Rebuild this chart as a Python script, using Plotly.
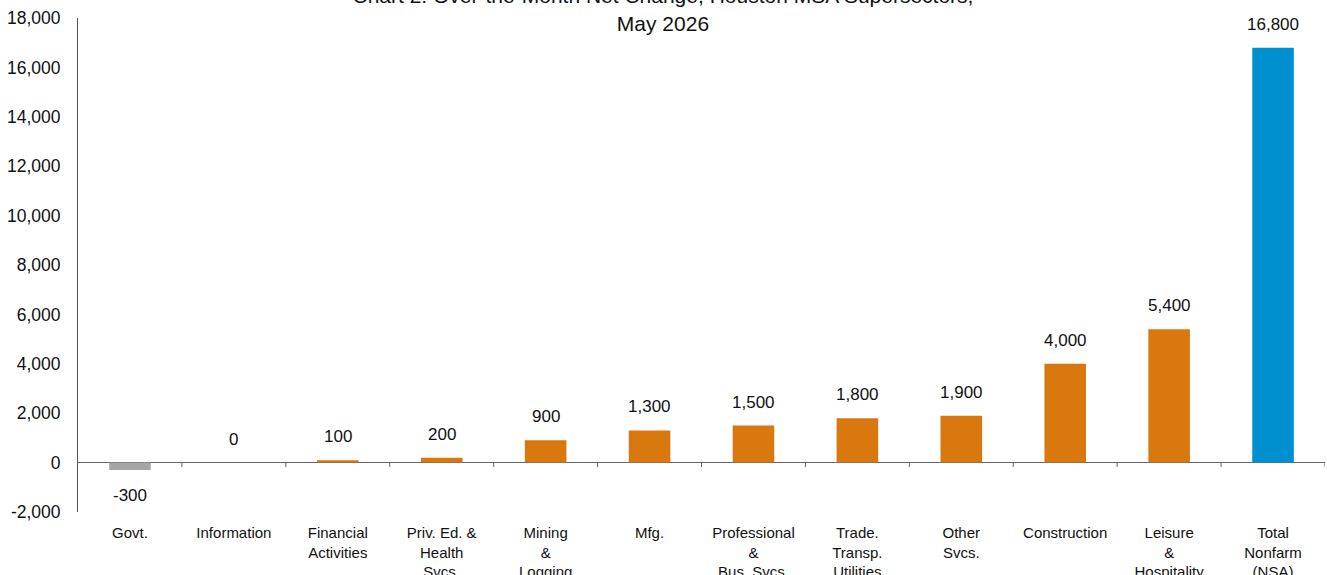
import plotly.graph_objects as go

# Over-the-month net change by supersector
categories = [
    "Govt.", "Information", "Financial<br>Activities", "Priv. Ed. &amp;<br>Health<br>Svcs.",
    "Mining<br>&amp;<br>Logging", "Mfg.", "Professional<br>&amp;<br>Bus. Svcs.",
    "Trade.<br>Transp.<br>Utilities", "Other<br>Svcs.", "Construction",
    "Leisure<br>&amp;<br>Hospitality", "Total<br>Nonfarm<br>(NSA)",
]
values = [-300, 0, 100, 200, 900, 1300, 1500, 1800, 1900, 4000, 5400, 16800]
y_ticks = [-2000, 0, 2000, 4000, 6000, 8000, 10000, 12000, 14000, 16000, 18000]

ORANGE = "#D8780E"
GRAY = "#A6A6A6"
BLUE = "#008FCF"
colors = [GRAY if v < 0 else ORANGE for v in values]
colors[-1] = BLUE

x_idx = list(range(len(categories)))

fig = go.Figure(go.Bar(
    x=x_idx, y=values, width=0.4,
    marker=dict(color=colors, line=dict(width=0)),
    hoverinfo="skip",
))

# value labels above (or below, for negatives) each bar
for i, v in zip(x_idx, values):
    fig.add_annotation(
        x=i, y=v, text=f"{v:,}", showarrow=False,
        yanchor="top" if v < 0 else "bottom",
        yshift=-14 if v < 0 else 12,
        font=dict(family="Liberation Sans, Arial, sans-serif", size=17, color="#111111"),
    )

# short tick marks on the zero line between categories
for i in range(len(categories)):
    fig.add_shape(type="line", x0=i + 0.5, x1=i + 0.5, y0=0, y1=-180,
                  xref="x", yref="y", line=dict(color="#666666", width=1))

fig.update_layout(
    width=1327, height=575,
    margin=dict(l=78, r=2, t=18, b=63),
    paper_bgcolor="white", plot_bgcolor="white",
    showlegend=False,
    title=dict(
        text="Chart 2: Over-the-Month Net Change, Houston MSA Supersectors,<br>May 2026",
        x=0.4996, xref="container", xanchor="center",
        y=0.994, yref="container", yanchor="middle",
        font=dict(family="Liberation Sans Narrow, Arial Narrow, sans-serif", size=21, color="#111111"),
    ),
    xaxis=dict(
        range=[-0.5, len(categories) - 0.5],
        tickmode="array", tickvals=x_idx, ticktext=categories,
        showline=False, showgrid=False, zeroline=False, ticks="",
        tickangle=0, ticklabelstandoff=10, automargin=False,
        tickfont=dict(family="Liberation Sans Narrow, Arial Narrow, sans-serif", size=15, color="#111111"),
    ),
    yaxis=dict(
        range=[-2000, 18000], automargin=False,
        tickmode="array", tickvals=y_ticks,
        ticktext=[f"{t:,}" for t in y_ticks],
        showline=True, linecolor="#555555", linewidth=1,
        showgrid=False, ticks="",
        zeroline=True, zerolinecolor="#666666", zerolinewidth=1,
        tickfont=dict(family="Liberation Sans, Arial, sans-serif", size=17.5, color="#111111"),
        ticklabelstandoff=13,
    ),
)

fig.write_html("out.html")
